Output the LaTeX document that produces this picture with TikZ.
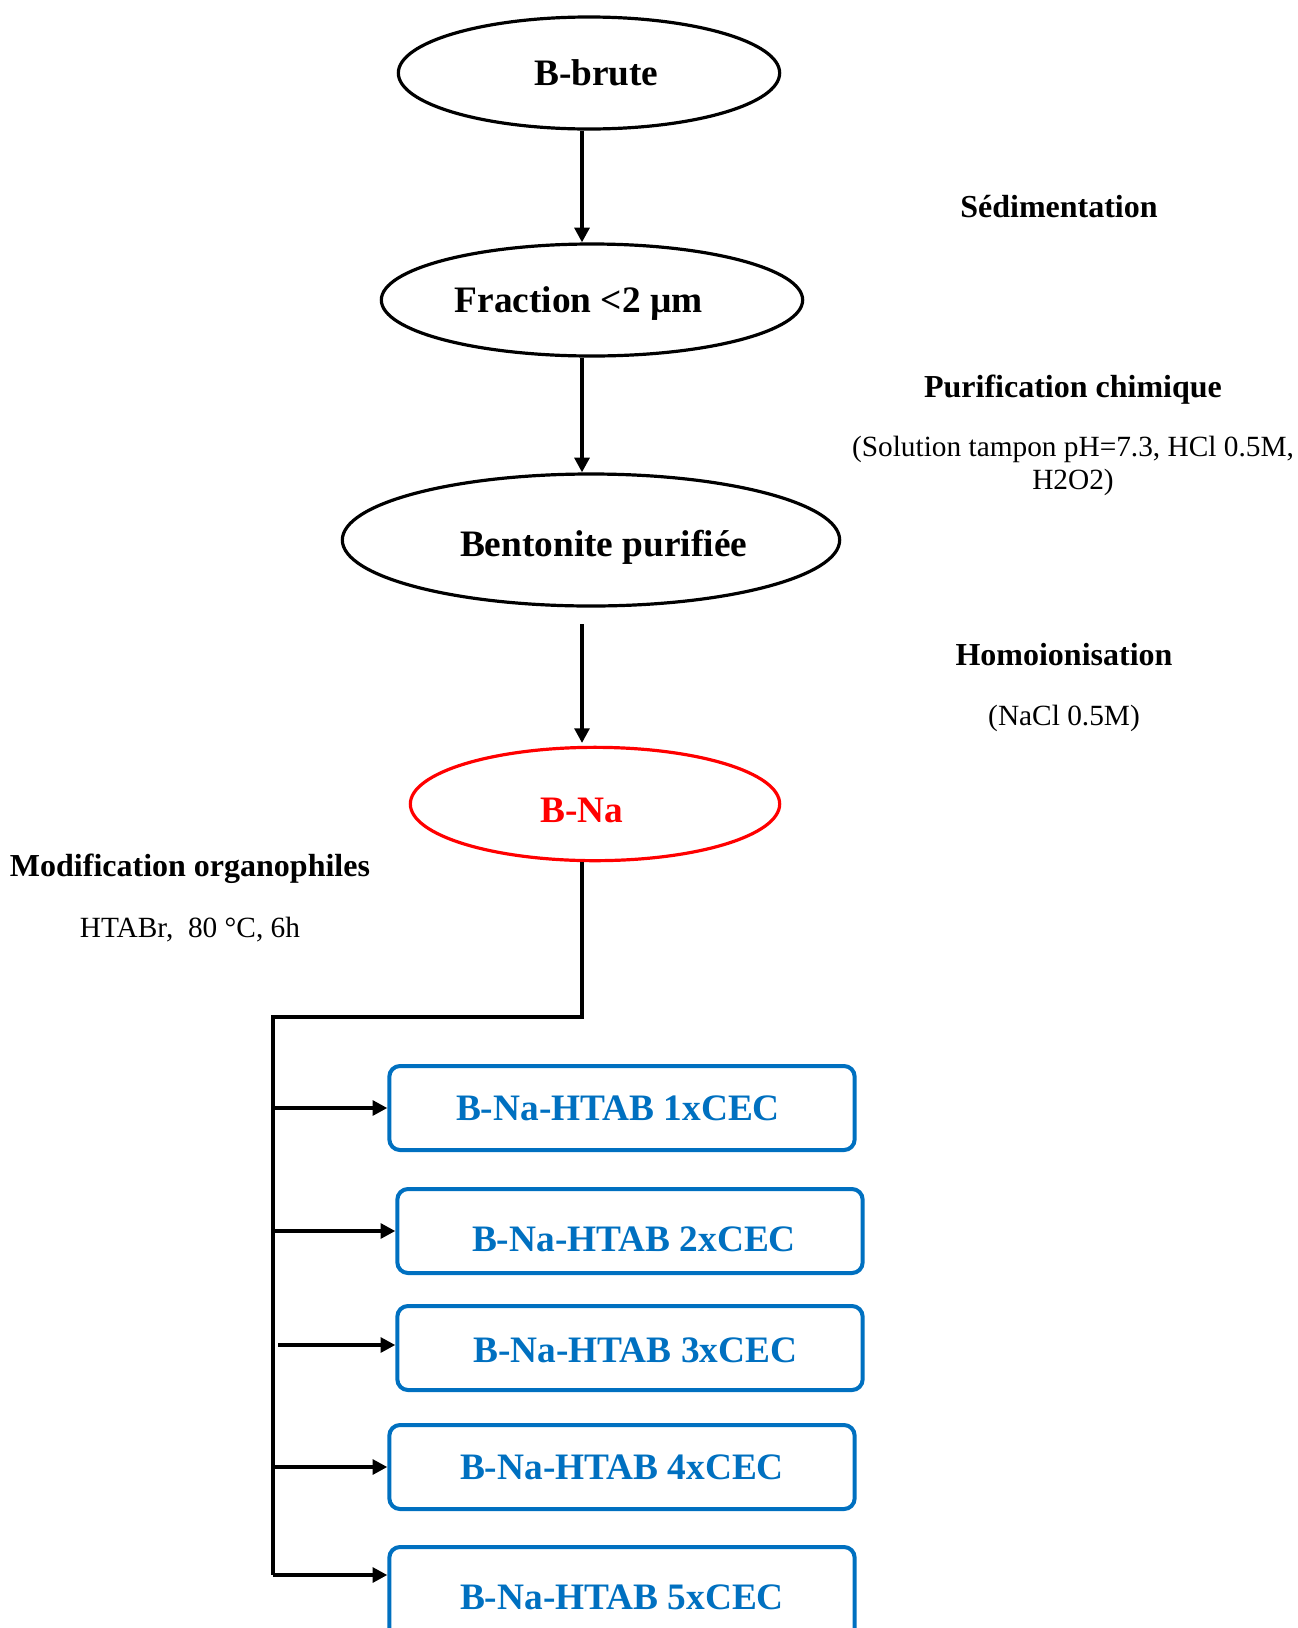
\documentclass[tikz,border=0pt]{standalone}
\usepackage{fontspec}
\setmainfont{Liberation Serif}
\usetikzlibrary{arrows.meta,shapes.geometric}
\definecolor{boxblue}{HTML}{0070C0}
\definecolor{nared}{HTML}{FF0000}
% move the text inside a node: #1 = twice the shift right, #2 = shift up
\newcommand{\nudge}[3]{\hspace*{#1}\raisebox{#2}[\height][\depth]{#3}}
\tikzset{
  every picture/.style={line join=miter, >=Triangle},
  stage/.style={ellipse, draw, line width=2.4pt, inner sep=0pt, font=\bfseries\fontsize{28}{34}\selectfont},
  product/.style={rectangle, rounded corners=8pt, draw=boxblue, line width=3pt, text=boxblue, inner sep=0pt,
    minimum width=349pt, minimum height=63pt, font=\bfseries\fontsize{28}{34}\selectfont},
  steplabel/.style={font=\bfseries\fontsize{24}{29}\selectfont},
  cond/.style={font=\fontsize{22}{25}\selectfont, align=center},
  arr/.style={-{Triangle[length=11pt,width=11pt]}, line width=2.8pt},
}

\begin{document}
\begin{tikzpicture}[x=0.75pt,y=-0.75pt]
\useasboundingbox (0,0) rectangle (1298,1628);
% stages of the treatment
\node[stage, minimum width=286pt, minimum height=84pt] (brute) at (589,73) {\nudge{11pt}{0pt}{B-brute}};
\node[stage, minimum width=316pt, minimum height=84pt] (frac) at (592,300) {\nudge{-20pt}{-3pt}{Fraction <2 µm}};
\node[stage, minimum width=373pt, minimum height=99pt] (purif) at (591,540) {\nudge{19pt}{-5.5pt}{Bentonite purifiée}};
\node[stage, draw=nared, text=nared, minimum width=277pt, minimum height=85pt] (bna) at (595,804) {\nudge{-20pt}{-4.5pt}{B-Na}};
\coordinate (spine) at (582,0);
\coordinate (gap) at (582,624);
\coordinate (bnatop) at (582,743);
\coordinate (knee) at (582,1017);
\coordinate (bus) at (273,1017);
\coordinate (busend) at (273,1575);
\coordinate (s3) at (278,1345);
\draw[arr] (brute.south -| spine) -- (frac.north -| spine);
\draw[arr] (frac.south -| spine) -- (purif.north -| spine);
\draw[arr] (gap) -- (bnatop);
\draw[line width=2.8pt] (bna.south -| spine) -- (knee) -- (bus) -- (busend);
% organophilic clays
\node[product] (cec1) at (622,1108) {\nudge{-6pt}{0pt}{B-Na-HTAB 1xCEC}};
\node[product] (cec2) at (630,1231) {\nudge{6pt}{-6pt}{B-Na-HTAB 2xCEC}};
\node[product] (cec3) at (630,1348) {\nudge{8pt}{-1.5pt}{B-Na-HTAB 3xCEC}};
\node[product] (cec4) at (622,1467) {B-Na-HTAB 4xCEC};
\node[product, minimum height=75pt] (cec5) at (622,1597) {B-Na-HTAB 5xCEC};
\foreach \k in {1,2,4}
  \draw[arr] (bus |- cec\k.west) -- (cec\k.west);
\draw[arr] (s3) -- (s3 -| cec3.west);
\draw[arr] (busend) -- (busend -| cec5.west);
% operations
\node[steplabel] (sed) at (1059,207) {Sédimentation};
\node[steplabel] (chim) at (1073,390) {Purification chimique};
\node[cond] (tampon) at (1073,466) {(Solution tampon pH=7.3, HCl 0.5M,\\ H2O2)};
\node[steplabel] (homo) at (1064,655) {Homoionisation};
\node[cond] (nacl) at (1064,718) {(NaCl 0.5M)};
\node[steplabel] (modif) at (190,869) {Modification organophiles};
\node[cond] (htabr) at (190,930) {HTABr,~ 80 °C, 6h};
\end{tikzpicture}
\end{document}
